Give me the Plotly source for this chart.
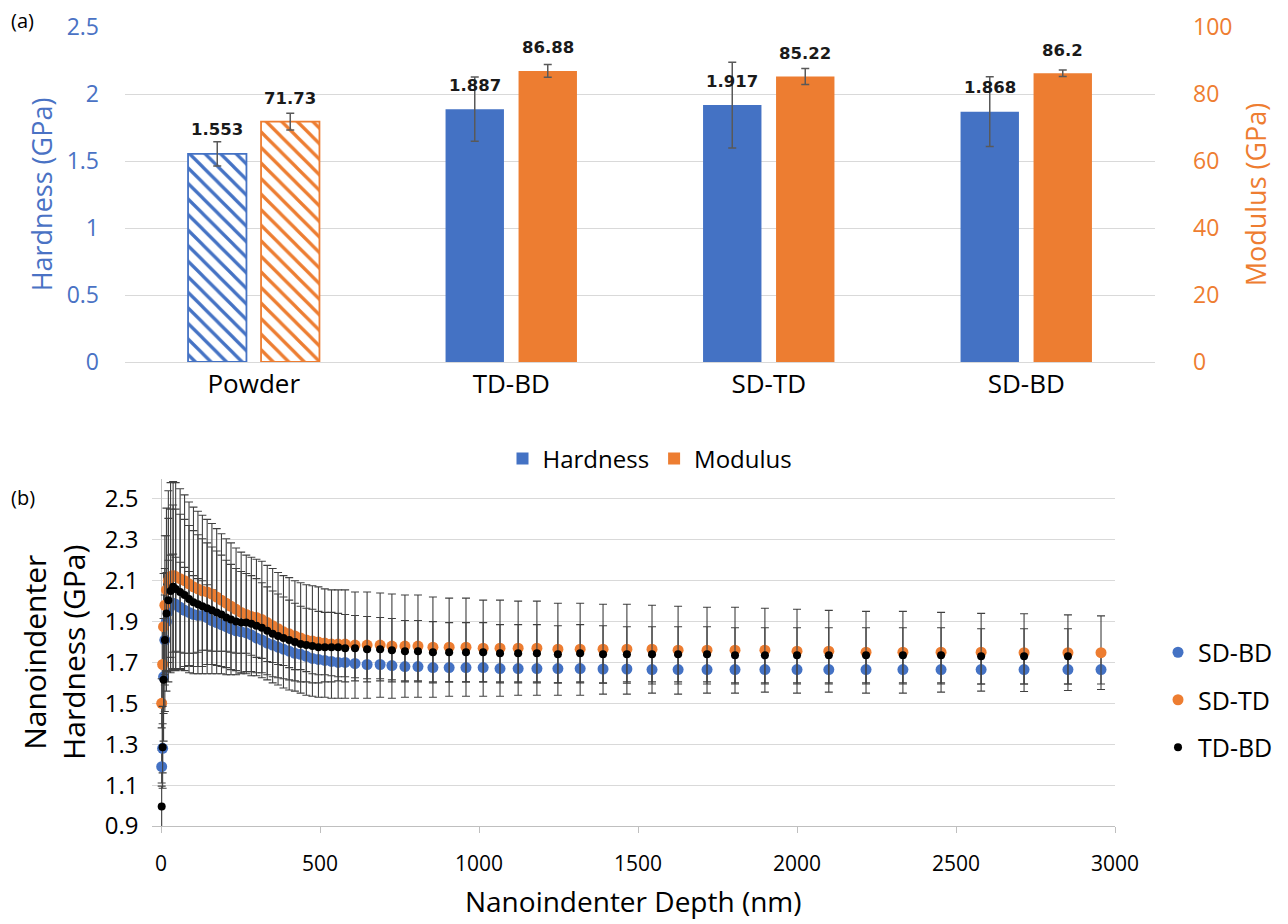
import plotly.graph_objects as go

# ---------------- (a) bar data ----------------
categories = ["Powder", "TD-BD", "SD-TD", "SD-BD"]
hardness = [1.553, 1.887, 1.917, 1.868]
hardness_err = [0.09, 0.24, 0.32, 0.26]
modulus = [71.73, 86.88, 85.22, 86.2]
modulus_err = [2.5, 1.9, 2.4, 1.0]
hardness_labels = ["1.553", "1.887", "1.917", "1.868"]
modulus_labels = ["71.73", "86.88", "85.22", "86.2"]

# ---------------- (b) nanoindentation data ----------------
depth = [2, 5, 8, 12, 17, 23, 30, 38, 46,
         60, 74, 88, 102, 116, 130, 145, 160, 175, 190,
         205, 220, 236, 252, 268, 284, 300, 317, 334, 351,
         368, 385, 403, 421, 439, 457, 476, 495, 515, 536,
         557, 579, 610, 648, 689, 726, 767, 808, 855, 906,
         959, 1013, 1066, 1123, 1182, 1248, 1318, 1390, 1465, 1544,
         1626, 1717, 1805, 1899, 2000, 2100, 2217, 2333, 2453, 2579,
         2714, 2852, 2956]

sd_bd = [1.19, 1.28, 1.63, 1.81, 1.90, 1.95, 1.975, 1.99, 1.985,
         1.97, 1.955, 1.945, 1.935, 1.93, 1.93, 1.92, 1.905, 1.895, 1.885,
         1.875, 1.865, 1.855, 1.85, 1.845, 1.835, 1.82, 1.81, 1.795, 1.785,
         1.775, 1.765, 1.755, 1.745, 1.74, 1.73, 1.72, 1.715, 1.71, 1.705,
         1.70, 1.70, 1.695, 1.69, 1.69, 1.685, 1.68, 1.68, 1.675, 1.675,
         1.675, 1.675, 1.67, 1.67, 1.67, 1.67, 1.67, 1.668, 1.668, 1.665,
         1.665, 1.665, 1.665, 1.665, 1.665, 1.665, 1.665, 1.665, 1.665, 1.665,
         1.665, 1.665, 1.665]
sd_bd_err = [0.08, 0.12, 0.18, 0.22, 0.24, 0.25, 0.25, 0.24, 0.23,
             0.22, 0.21, 0.20, 0.19, 0.18, 0.17, 0.16, 0.15, 0.14, 0.13,
             0.12, 0.115, 0.11, 0.105, 0.10, 0.10, 0.095, 0.09, 0.09, 0.085,
             0.085, 0.08, 0.08, 0.08, 0.075, 0.075, 0.075, 0.075, 0.07, 0.07,
             0.07, 0.07, 0.07, 0.07, 0.07, 0.07, 0.07, 0.07, 0.07, 0.07,
             0.07, 0.07, 0.07, 0.07, 0.07, 0.07, 0.07, 0.07, 0.07, 0.07,
             0.07, 0.07, 0.07, 0.07, 0.07, 0.07, 0.07, 0.07, 0.07, 0.07,
             0.07, 0.07, 0.07]

sd_td = [1.50, 1.69, 1.875, 1.98, 2.055, 2.10, 2.12, 2.125, 2.12,
         2.11, 2.10, 2.085, 2.07, 2.06, 2.05, 2.045, 2.035, 2.02, 2.005,
         1.99, 1.975, 1.96, 1.945, 1.935, 1.925, 1.92, 1.91, 1.895, 1.88,
         1.865, 1.85, 1.84, 1.83, 1.82, 1.81, 1.805, 1.80, 1.795, 1.79,
         1.79, 1.79, 1.785, 1.785, 1.785, 1.78, 1.78, 1.78, 1.775, 1.775,
         1.775, 1.77, 1.77, 1.77, 1.77, 1.765, 1.765, 1.765, 1.765, 1.765,
         1.76, 1.76, 1.76, 1.76, 1.755, 1.755, 1.75, 1.75, 1.75, 1.75,
         1.748, 1.748, 1.748]
sd_td_err = [0.12, 0.18, 0.26, 0.34, 0.40, 0.44, 0.46, 0.46, 0.46,
             0.44, 0.42, 0.40, 0.39, 0.38, 0.37, 0.355, 0.345, 0.335, 0.325,
             0.315, 0.31, 0.30, 0.295, 0.29, 0.29, 0.285, 0.285, 0.28, 0.28,
             0.275, 0.275, 0.275, 0.27, 0.27, 0.27, 0.27, 0.27, 0.265, 0.265,
             0.265, 0.265, 0.26, 0.26, 0.255, 0.255, 0.25, 0.25, 0.245, 0.24,
             0.24, 0.235, 0.235, 0.23, 0.23, 0.225, 0.225, 0.22, 0.22, 0.215,
             0.215, 0.21, 0.21, 0.205, 0.205, 0.20, 0.20, 0.20, 0.195, 0.19,
             0.19, 0.185, 0.18]

td_bd_depth = depth[:-1]
td_bd = [0.995, 1.285, 1.615, 1.81, 1.94, 2.005, 2.05, 2.07, 2.06,
         2.045, 2.03, 2.01, 1.995, 1.985, 1.975, 1.965, 1.955, 1.945, 1.935,
         1.92, 1.91, 1.90, 1.895, 1.895, 1.89, 1.88, 1.87, 1.855, 1.84,
         1.83, 1.82, 1.81, 1.80, 1.79, 1.785, 1.78, 1.775, 1.775, 1.775,
         1.775, 1.77, 1.77, 1.765, 1.765, 1.76, 1.755, 1.755, 1.75, 1.75,
         1.75, 1.75, 1.745, 1.745, 1.745, 1.74, 1.745, 1.74, 1.74, 1.74,
         1.74, 1.74, 1.735, 1.735, 1.735, 1.735, 1.735, 1.735, 1.735, 1.73,
         1.73, 1.73]
td_bd_err = [0.10, 0.20, 0.30, 0.35, 0.38, 0.40, 0.40, 0.40, 0.39,
             0.38, 0.37, 0.36, 0.35, 0.34, 0.33, 0.32, 0.31, 0.30, 0.29,
             0.28, 0.27, 0.26, 0.25, 0.24, 0.235, 0.23, 0.22, 0.215, 0.21,
             0.205, 0.20, 0.195, 0.19, 0.185, 0.18, 0.18, 0.175, 0.17, 0.17,
             0.165, 0.165, 0.16, 0.16, 0.155, 0.155, 0.15, 0.15, 0.15, 0.145,
             0.145, 0.145, 0.14, 0.14, 0.14, 0.14, 0.14, 0.14, 0.135, 0.135,
             0.135, 0.135, 0.135, 0.135, 0.135, 0.135, 0.135, 0.135, 0.135, 0.135,
             0.135, 0.135]

BLUE = "#4472C4"
ORANGE = "#ED7D31"
BLUE_TXT = "#4A72C4"
ORANGE_TXT = "#EE7D31"
GRID = "#D9D9D9"
ERR = "#404040"
FONT = "Open Sans"
LABEL_FONT = "DejaVu Sans"

# page body has an 8px margin: figure is drawn at (8, 8)
OFF = 8
W, H = 1288 - OFF, 924 - OFF


def fx(px):
    return (px - OFF) / W


def fy(py):
    return 1 - (py - OFF) / H


fig = go.Figure()

# Hardness bars (Powder patterned, others solid)
fig.add_trace(go.Bar(
    x=categories[:1], y=hardness[:1], name="Hardness", showlegend=False,
    xaxis="x", yaxis="y", offsetgroup="h", alignmentgroup="g",
    marker=dict(color=BLUE, line=dict(color=BLUE, width=1.8),
                pattern=dict(shape="\\", fgcolor=BLUE, bgcolor="white", size=11,
                             solidity=0.3, fgopacity=1)),
    error_y=dict(type="data", array=hardness_err[:1], color="#595959", thickness=1.5, width=4),
))
fig.add_trace(go.Bar(
    x=categories[1:], y=hardness[1:], name="Hardness", legend="legend",
    xaxis="x", yaxis="y", offsetgroup="h", alignmentgroup="g",
    marker=dict(color=BLUE, line=dict(width=0)),
    error_y=dict(type="data", array=hardness_err[1:], color="#595959", thickness=1.5, width=4),
))
fig.add_trace(go.Bar(
    x=categories[:1], y=modulus[:1], name="Modulus", showlegend=False,
    xaxis="x", yaxis="y2", offsetgroup="m", alignmentgroup="g",
    marker=dict(color=ORANGE, line=dict(color=ORANGE, width=1.8),
                pattern=dict(shape="\\", fgcolor=ORANGE, bgcolor="white", size=11,
                             solidity=0.3, fgopacity=1)),
    error_y=dict(type="data", array=modulus_err[:1], color="#595959", thickness=1.5, width=4),
))
fig.add_trace(go.Bar(
    x=categories[1:], y=modulus[1:], name="Modulus", legend="legend",
    xaxis="x", yaxis="y2", offsetgroup="m", alignmentgroup="g",
    marker=dict(color=ORANGE, line=dict(width=0)),
    error_y=dict(type="data", array=modulus_err[1:], color="#595959", thickness=1.5, width=4),
))

# Value labels
annotations = []
for c, v, t in zip(categories, hardness, hardness_labels):
    annotations.append(dict(x=c, y=v, xref="x", yref="y", text="<b>%s</b>" % t,
                            showarrow=False, xshift=-36.5, yshift=24,
                            font=dict(family=LABEL_FONT, size=16.5, color="#1a1a1a")))
for c, v, t in zip(categories, modulus, modulus_labels):
    annotations.append(dict(x=c, y=v, xref="x", yref="y2", text="<b>%s</b>" % t,
                            showarrow=False, xshift=36.5, yshift=23,
                            font=dict(family=LABEL_FONT, size=16.5, color="#1a1a1a")))
annotations.append(dict(x=fx(9), y=fy(20), xref="paper", yref="paper", text="(a)",
                        showarrow=False, xanchor="left", yanchor="middle",
                        font=dict(family=FONT, size=20, color="black")))
annotations.append(dict(x=fx(9), y=fy(497), xref="paper", yref="paper", text="(b)",
                        showarrow=False, xanchor="left", yanchor="middle",
                        font=dict(family=FONT, size=20, color="black")))

# ---------------- (b) scatter ----------------
fig.add_trace(go.Scatter(
    x=depth, y=sd_bd, mode="markers", name="SD-BD", xaxis="x2", yaxis="y3",
    legend="legend2", legendgroup="a",
    marker=dict(color=BLUE, size=11),
    error_y=dict(type="data", array=sd_bd_err, color=ERR, thickness=1.1, width=4),
))
fig.add_trace(go.Scatter(
    x=depth, y=sd_td, mode="markers", name="SD-TD", xaxis="x2", yaxis="y3",
    legend="legend2", legendgroup="b",
    marker=dict(color=ORANGE, size=11),
    error_y=dict(type="data", array=sd_td_err, color=ERR, thickness=1.1, width=4),
))
fig.add_trace(go.Scatter(
    x=td_bd_depth, y=td_bd, mode="markers", name="TD-BD", xaxis="x2", yaxis="y3",
    legend="legend2", legendgroup="c",
    marker=dict(color="black", size=8),
    error_y=dict(type="data", array=td_bd_err, color=ERR, thickness=1.1, width=4),
))

fig.update_layout(
    width=W, height=H,
    margin=dict(l=0, r=0, t=0, b=0, autoexpand=False),
    paper_bgcolor="white", plot_bgcolor="white",
    font=dict(family=FONT, color="black"),
    barmode="group", bargap=0.433, bargroupgap=0.2,
    annotations=annotations,
    xaxis=dict(domain=[fx(125), fx(1155)], anchor="y", automargin=False,
               showgrid=False, showline=False, zeroline=False, ticks="",
               tickfont=dict(size=26, color="black"), ticklabelstandoff=4),
    yaxis=dict(domain=[fy(362), fy(27)], anchor="x", range=[0, 2.5], automargin=False,
               dtick=0.5, showgrid=True, gridcolor=GRID, gridwidth=1.3,
               zeroline=True, zerolinecolor=GRID, zerolinewidth=1.3,
               tickfont=dict(size=23, color=BLUE_TXT), ticklabelstandoff=25,
               title=dict(text="Hardness (GPa)", font=dict(size=27, color=BLUE_TXT), standoff=6)),
    yaxis2=dict(overlaying="y", side="right", anchor="x", range=[0, 100], dtick=20, automargin=False,
                showgrid=False, zeroline=False,
                tickfont=dict(size=23, color=ORANGE_TXT), ticklabelstandoff=37,
                title=dict(text="Modulus (GPa)", font=dict(size=27, color=ORANGE_TXT), standoff=15)),
    xaxis2=dict(domain=[fx(151.5), fx(1115)], anchor="y3", range=[-30, 3000], automargin=False,
                dtick=500, showgrid=False, showline=True, linecolor="#BFBFBF", linewidth=1.3,
                zeroline=True, zerolinecolor="#BFBFBF", zerolinewidth=1.3,
                ticks="outside", ticklen=6, tickcolor="#BFBFBF",
                tickfont=dict(size=21, color="black"), ticklabelstandoff=13,
                title=dict(text="Nanoindenter Depth (nm)", font=dict(size=28, color="black"), standoff=16)),
    yaxis3=dict(domain=[fy(826), fy(478.5)], anchor="x2", range=[0.9, 2.6], automargin=False,
                tickvals=[0.9, 1.1, 1.3, 1.5, 1.7, 1.9, 2.1, 2.3, 2.5],
                ticktext=["0.9", "1.1", "1.3", "1.5", "1.7", "1.9", "2.1", "2.3", "2.5"],
                showgrid=True, gridcolor=GRID, gridwidth=1.3, zeroline=False, showline=False,
                tickfont=dict(size=24, color="black"), ticklabelstandoff=12,
                title=dict(text="Nanoindenter<br>Hardness (GPa)", font=dict(size=30, color="black"), standoff=10)),
    legend=dict(orientation="h", x=fx(650), xanchor="center", y=fy(459), yanchor="middle",
                font=dict(size=24, color="black"), bgcolor="rgba(0,0,0,0)"),
    legend2=dict(orientation="v", x=fx(1158), xanchor="left", y=fy(700), yanchor="middle",
                 font=dict(size=25, color="black"), tracegroupgap=12, bgcolor="rgba(0,0,0,0)"),
)

fig.write_html("out.html")
